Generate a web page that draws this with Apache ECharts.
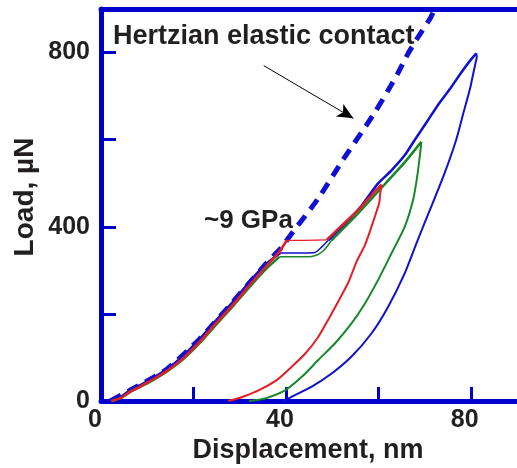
<!DOCTYPE html>
<html>
<head>
<meta charset="utf-8">
<script src="https://cdn.jsdelivr.net/npm/echarts@6/dist/echarts.min.js"></script>
<style>
html,body{margin:0;padding:0;background:#fff;}
#chart{width:517px;height:468px;}
</style>
</head>
<body>
<div id="chart"></div>
<script>
// ---- data (Displacement nm, Load µN) ----
var xTicks = [0, 40, 80];
var yTicks = [0, 400, 800];

var hertzian = [[2,0],[6.2,24],[14.1,72],[21.3,142],[28.4,226],[35.6,314],[38.9,351],[41.3,385],[47,465],[52,548],[57.4,633],[59.5,667],[62.1,713],[64.2,752],[66.4,797],[68.5,834],[71.3,880],[72.2,900]];

var blueLoad1 = [[2,0],[4,8],[6.2,24],[9.8,44],[14.1,72],[17.7,103],[21.3,142],[24.8,184],[28.4,226],[32,272],[35.6,314],[38.8,340]];
var bluePopIn = [[38.8,340],[44,340],[46.3,341],[47.4,350],[49.2,369]];
var blueLoad2 = [[49.2,369],[52.8,407],[56.4,449],[59.9,499],[62.8,529],[65.7,564],[67.8,598],[70.7,644],[72.8,678],[75.6,718],[77.8,752],[79.9,782],[81.2,798]];
var blueUnload = [[81.2,798],[81.3,790],[81,775],[79.9,720],[78.5,665],[76.8,598],[74.3,522],[71.4,445],[68.5,369],[65.7,293],[62.1,216],[58.5,155],[54.2,102],[49.9,63],[45.6,33],[41.3,10],[39.9,2],[39.5,0]];

var greenLoad1 = [[2.5,0],[4.5,8],[6.5,22],[10.3,42],[14.6,70],[18.2,100],[21.8,138],[25.3,180],[28.9,222],[32.5,266],[36,306],[38.6,331]];
var greenPopIn = [[38.6,331],[42,331],[45.6,332],[47.8,342],[49.9,369]];
var greenLoad2 = [[49.9,369],[54.2,415],[58.5,464],[62.1,506],[65.7,548],[69.3,595]];
var greenUnload = [[69.3,595],[69.2,583],[68.5,522],[67.5,461],[65.7,400],[62.8,338],[59.9,277],[57.1,224],[54.2,178],[50.6,132],[47,94],[43.5,56],[39.9,25],[35.6,6],[33,1],[32,0]];

var redLoad1 = [[2.2,0],[4.3,7],[6.4,22],[10,42],[14.4,70],[18,100],[21.6,139],[25.1,181],[28.7,223],[32.3,268],[35.8,310],[38.6,343],[40.2,369]];
var redPopIn = [[40.2,369],[44,369],[48.8,370]];
var redLoad2 = [[48.8,370],[52.1,403],[55.6,438],[58.5,472],[60.7,497]];
var redUnload = [[60.7,497],[60.4,475],[60.2,455],[59.2,422],[58.2,390],[57.1,358],[55.3,320],[53.5,272],[51.3,228],[49.5,193],[47,147],[44.2,109],[41.3,79],[38,48],[34.2,25],[31,11],[29,4],[27.5,0]];

var arrowFrom = [35.2, 770];
var arrowTo = [54.6, 649];

// ---- styles ----
var AX = '#0000cc';
var BLUE = '#1010d0';
var GREEN = '#16882a';
var RED = '#e41e26';
var TXT = '#231f20';
var FONT = '"Liberation Sans", Arial, Helvetica, sans-serif';

function line(data, color, width, smooth) {
  return {type:'line', data:data, symbol:'none', smooth:smooth||false, z:3,
    lineStyle:{color:color, width:width}, animation:false, silent:true};
}

var chart = echarts.init(document.getElementById('chart'), null, {renderer:'canvas'});
var series = [
  {type:'line', data:hertzian, symbol:'none', z:2, animation:false, silent:true, smooth:0.2,
   lineStyle:{color:BLUE, width:5, type:[12,8]},
   markLine:{silent:true, symbol:['none','arrow'], symbolSize:[11,16], animation:false,
     label:{show:false}, lineStyle:{color:'#000', width:1, type:'solid'},
     data:[[{coord:arrowFrom},{coord:arrowTo}]]}},
  line(blueLoad1, BLUE, 2.5, 0.2), line(bluePopIn, BLUE, 1.5, 0.3), line(blueLoad2, BLUE, 2.5, 0.2), line(blueUnload, BLUE, 2, 0.2),
  line(greenLoad1, GREEN, 2.5, 0.2), line(greenPopIn, GREEN, 1.5, 0.3), line(greenLoad2, GREEN, 2.5, 0.2), line(greenUnload, GREEN, 2, 0.2),
  line(redLoad1, RED, 2.5, 0.2), line(redPopIn, RED, 1.2), line(redLoad2, RED, 2.5, 0.2), line(redUnload, RED, 2, 0.2)
];

chart.setOption({
  backgroundColor:'#fff',
  grid:{left:101, right:-3, top:9, bottom:67, containLabel:false},
  xAxis:[{
    type:'value', min:0, max:90, interval:20, position:'bottom',
    axisLine:{show:true, onZero:false, lineStyle:{color:AX, width:5}},
    axisTick:{show:true, inside:true, length:14, lineStyle:{color:AX, width:3}},
    splitLine:{show:false},
    axisLabel:{margin:7, color:TXT, fontSize:25, fontWeight:'bold', fontFamily:FONT, padding:[0,12,0,0],
      showMaxLabel:false,
      formatter:function(v){return xTicks.indexOf(v) >= 0 ? String(v) : '';}}
  },{
    type:'value', min:0, max:90, position:'top',
    axisLine:{show:true, onZero:false, lineStyle:{color:AX, width:5}},
    axisTick:{show:false}, axisLabel:{show:false}, splitLine:{show:false}
  }],
  yAxis:{
    type:'value', min:0, max:900, interval:200,
    axisLine:{show:true, onZero:false, lineStyle:{color:AX, width:5}},
    axisTick:{show:true, inside:true, length:15, lineStyle:{color:AX, width:3}},
    splitLine:{show:false},
    axisLabel:{margin:11, color:TXT, fontSize:25, fontWeight:'bold', fontFamily:FONT,
      showMaxLabel:false,
      formatter:function(v){return yTicks.indexOf(v) >= 0 ? String(v) : '';}}
  },
  series:series,
  graphic:[
    {type:'text', left:113, top:23, silent:true, z:10,
     style:{text:'Hertzian elastic contact', fill:TXT, font:'bold 27px ' + FONT}},
    {type:'text', left:204, top:208, silent:true, z:10,
     style:{text:'~9 GPa', fill:TXT, font:'bold 26px ' + FONT}},
    {type:'text', x:308, y:451, silent:true, z:10,
     style:{text:'Displacement, nm', fill:TXT, font:'bold 27px ' + FONT, align:'center', verticalAlign:'middle'}},
    {type:'text', x:25, y:197, rotation:Math.PI/2, silent:true, z:10,
     style:{text:'Load, µN', fill:TXT, font:'bold 28px ' + FONT, align:'center', verticalAlign:'middle'}}
  ]
});
</script>
</body>
</html>
